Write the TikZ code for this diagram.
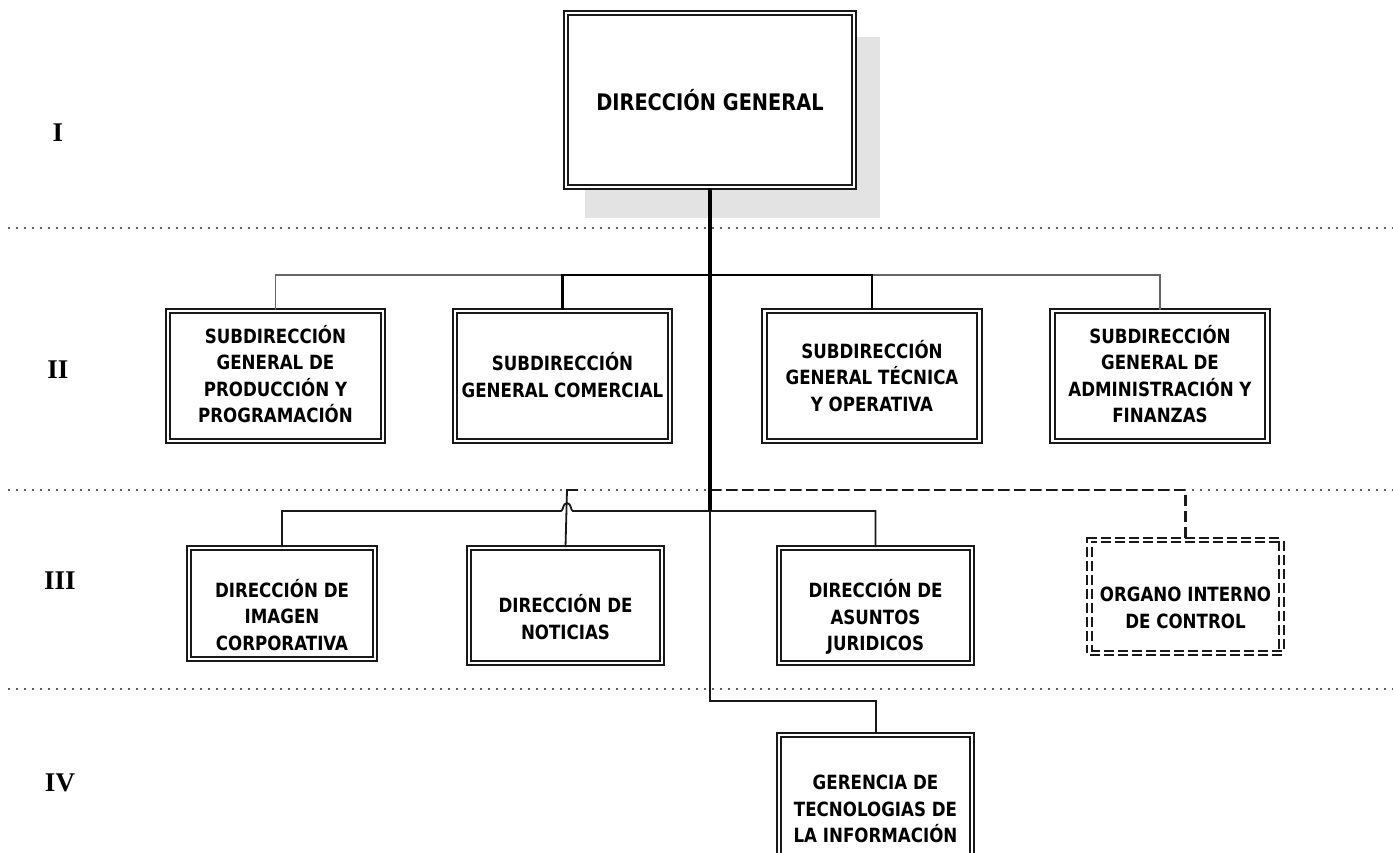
\documentclass[tikz,border=0pt]{standalone}
\usepackage{fontspec}
\newfontfamily\orgfont{DejaVu Sans}[FakeStretch=0.85]
\newfontfamily\levelfont{Liberation Serif}
\begin{document}
\begin{tikzpicture}[x=1pt,y=-1pt,
  unitbox/.style={draw=black!90, line width=1.8pt, double, double distance=2.6pt,
    fill=white, inner sep=0pt},
  ctrlbox/.style={unitbox, dash pattern=on 10pt off 4pt},
  boxtext/.style={align=center, inner sep=0pt,
    font=\orgfont\bfseries\fontsize{19.6}{26.5}\selectfont},
  toptext/.style={align=center, inner sep=0pt,
    font=\orgfont\bfseries\fontsize{22.8}{26}\selectfont},
  level/.style={font=\levelfont\bfseries\fontsize{27}{27}\selectfont},
  separator/.style={gray!75!black, line width=2pt, dash pattern=on 2pt off 6pt},
  thinlink/.style={black!90, line width=1.8pt},
  sidelink/.style={black!60, line width=1.8pt},
  mainlink/.style={black, line width=2.6pt},
  trunk/.style={black, line width=3.2pt},
  ctrllink/.style={black!90, line width=2.2pt, dash pattern=on 11pt off 5pt},
]
\useasboundingbox (0,0) rectangle (1393,852);
\clip (0,0) rectangle (1393,852);
\fill[white] (0,0) rectangle (1393,852);

% hierarchy levels
\node[level] (lvI)   at (58,133) {I};
\node[level] (lvII)  at (58,370) {II};
\node[level] (lvIII) at (60,581) {III};
\node[level] (lvIV)  at (60,783) {IV};

% level separators
\coordinate (sepL1) at (8,228);  \coordinate (sepR1) at (1393,228);
\coordinate (sepL2) at (8,490);  \coordinate (sepR2) at (1393,490);
\coordinate (sepL3) at (8,689);  \coordinate (sepR3) at (1393,689);
\draw[separator] (sepL1) -- (sepR1);
\draw[separator] (sepL2) -- (sepR2);
\draw[separator] (sepL3) -- (sepR3);

% level I
\fill[gray!22] (585,37) rectangle (880,218);
\node[unitbox, minimum width=288pt, minimum height=174pt] (dg) at (710,100) {};
\node[toptext] (dgt) at (710,100) {DIRECCIÓN GENERAL};

% level II
\foreach \n/\x in {s1/275.5, s2/562.5, s3/872, s4/1160}
  \node[unitbox, minimum width=215pt, minimum height=130pt] (\n) at (\x,376) {};
\node[boxtext] (s1t) at (275.5,374) {SUBDIRECCIÓN\\GENERAL DE\\PRODUCCIÓN Y\\PROGRAMACIÓN};
\node[boxtext] (s2t) at (562.5,375) {SUBDIRECCIÓN\\GENERAL COMERCIAL};
\node[boxtext] (s3t) at (872,376) {SUBDIRECCIÓN\\GENERAL TÉCNICA\\Y OPERATIVA};
\node[boxtext] (s4t) at (1160,374) {SUBDIRECCIÓN\\GENERAL DE\\ADMINISTRACIÓN Y\\FINANZAS};

% level III
\node[unitbox, minimum width=186pt, minimum height=111pt] (d1) at (282,603.5) {};
\node[unitbox, minimum width=193pt, minimum height=115pt] (d2) at (565.5,605.5) {};
\node[unitbox, minimum width=193pt, minimum height=115pt] (d3) at (875.5,605.5) {};
\node[ctrlbox, minimum width=192pt, minimum height=113pt] (oic) at (1185.5,596.5) {};
\node[boxtext] (d1t) at (282,615) {DIRECCIÓN DE\\IMAGEN\\CORPORATIVA};
\node[boxtext] (d2t) at (565.5,617) {DIRECCIÓN DE\\NOTICIAS};
\node[boxtext] (d3t) at (875.5,617) {DIRECCIÓN DE\\ASUNTOS\\JURIDICOS};
\node[boxtext] (oict) at (1185.5,608) {ORGANO INTERNO\\DE CONTROL};

% level IV
\node[unitbox, minimum width=193pt, minimum height=150pt] (g1) at (875.5,810) {};
\node[boxtext] (g1t) at (875.5,809) {GERENCIA DE\\TECNOLOGIAS DE\\LA INFORMACIÓN};

% junction points
\coordinate (busII)  at (710,275);
\coordinate (busIII) at (710,511);
\coordinate (ctrlJ)  at (710,490);
\coordinate (busIV)  at (710,701);
\coordinate (newsTop) at (567,490);
\coordinate (newsTick) at (578,490);

% level II bus
\draw[sidelink] (s1.north) |- (busII -| s2.north);
\draw[sidelink] (busII -| s3.north) -| (s4.north);
\draw[mainlink] (s2.north) |- (busII) -| (s3.north);

% level III bus, hopping over the line to Noticias
\draw[thinlink] (d1.north) |- (561,511)
  .. controls (563.5,511) and (562.5,503) .. (567,503)
  .. controls (571.5,503) and (570.5,511) .. (573,511)
  -| (d3.north);
\draw[thinlink] (d2.north) -- (newsTop) -- (newsTick);

% link to the internal control body
\draw[ctrllink] (ctrlJ) -| (oic.north);

% trunk
\draw[trunk] (dg.south) -- (busIII);
\draw[thinlink, line width=2pt] (busIII) -- (busIV) -| (g1.north);
\end{tikzpicture}
\end{document}
